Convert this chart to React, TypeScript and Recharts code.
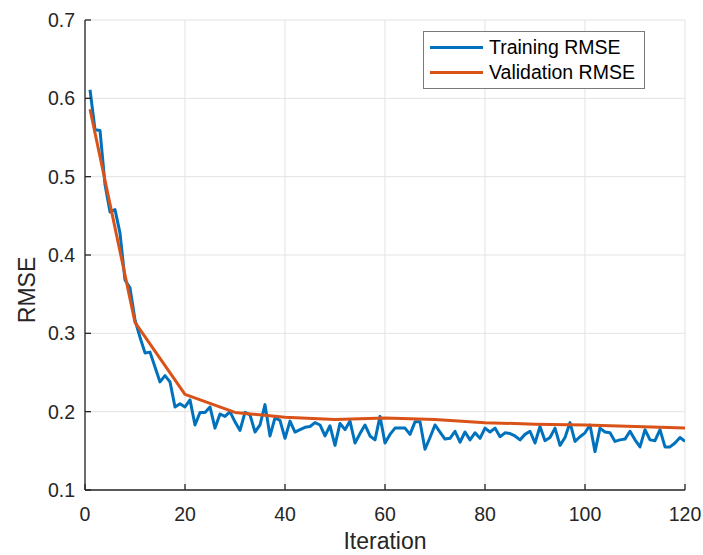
import React from 'react'
import {
  LineChart, Line, XAxis, YAxis, CartesianGrid, Legend
} from 'recharts'

// training RMSE, one value per iteration (1..120)
const trainingRMSE = [
  0.611, 0.560, 0.559, 0.490, 0.455, 0.458, 0.428, 0.368, 0.358, 0.317,
  0.295, 0.275, 0.276, 0.257, 0.238, 0.246, 0.238, 0.206, 0.210, 0.206,
  0.215, 0.183, 0.199, 0.199, 0.206, 0.179, 0.197, 0.194, 0.200, 0.187,
  0.176, 0.199, 0.196, 0.174, 0.183, 0.209, 0.169, 0.192, 0.189, 0.166,
  0.188, 0.174, 0.177, 0.180, 0.181, 0.186, 0.183, 0.169, 0.182, 0.157,
  0.185, 0.177, 0.188, 0.160, 0.172, 0.183, 0.169, 0.164, 0.194, 0.160,
  0.171, 0.179, 0.179, 0.179, 0.171, 0.187, 0.187, 0.152, 0.167, 0.183,
  0.174, 0.165, 0.166, 0.175, 0.161, 0.174, 0.164, 0.173, 0.166, 0.179,
  0.174, 0.179, 0.168, 0.173, 0.172, 0.169, 0.164, 0.171, 0.175, 0.160,
  0.181, 0.163, 0.167, 0.179, 0.157, 0.167, 0.186, 0.162, 0.168, 0.173,
  0.183, 0.149, 0.179, 0.174, 0.173, 0.162, 0.164, 0.165, 0.175, 0.164,
  0.155, 0.177, 0.164, 0.163, 0.177, 0.155, 0.155, 0.160, 0.167, 0.162,
]

// validation is only evaluated every 10 iterations
const validationIters = [1, 10, 20, 30, 40, 50, 60, 70, 80, 90, 100, 110, 120]
const validationRMSE = [0.586, 0.314, 0.222, 0.199, 0.193, 0.190, 0.192, 0.190, 0.186, 0.184, 0.183, 0.181, 0.179]

const xTicks = [0, 20, 40, 60, 80, 100, 120]
const yTicks = [0.1, 0.2, 0.3, 0.4, 0.5, 0.6, 0.7]

const data = trainingRMSE.map((v, i) => {
  const iter = i + 1
  const k = validationIters.indexOf(iter)
  return { iter, train: v, val: k >= 0 ? validationRMSE[k] : null }
})

const FONT = '"Liberation Sans", Arial, Helvetica, sans-serif'
const AXIS = '#262626'
const BLUE = '#0072BD'
const ORANGE = '#D95319'

const noLabel = () => <g />

// y label sits a bit below the axis middle in the original
const YLabel = ({ viewBox }: any) => {
  const cy = viewBox.y + viewBox.height / 2 + 35
  return (
    <text x={35} y={cy} transform={`rotate(-90, 35, ${cy})`} textAnchor="middle"
      fill={AXIS} fontSize={23} fontFamily={FONT}>RMSE</text>
  )
}

function LegendBox() {
  const row = (color: string, text: string) => (
    <div style={{ display: 'flex', alignItems: 'center', height: 25 }}>
      <div style={{ width: 53, height: 3, background: color, marginRight: 6 }} />
      <span>{text}</span>
    </div>
  )
  return (
    <div style={{
      border: '1px solid #7a7a7a', background: '#fff', padding: '3px 6px 3px 6px',
      fontFamily: FONT, fontSize: 19.5, color: '#000', lineHeight: '25px', width: 208,
    }}>
      {row(BLUE, 'Training RMSE')}
      {row(ORANGE, 'Validation RMSE')}
    </div>
  )
}

export default function App() {
  return (
    <div style={{ position: 'absolute', left: 0, top: 0, width: 703, height: 555, background: '#fff' }}>
      <LineChart width={703} height={555} data={data} margin={{ top: 20, right: 18, bottom: 0, left: 0 }}>
        <CartesianGrid stroke="#e3e3e3" strokeWidth={1} horizontalValues={yTicks} verticalValues={xTicks} />
        <XAxis
          dataKey="iter" type="number" domain={[0, 120]} ticks={xTicks} allowDataOverflow
          height={65} tickSize={-6} tickMargin={23}
          stroke={AXIS} strokeWidth={1.3}
          tick={{ fill: AXIS, fontSize: 19.5, fontFamily: FONT }}
          label={{ value: 'Iteration', position: 'insideBottom', offset: 6, fill: AXIS, fontSize: 23, fontFamily: FONT }}
        />
        <XAxis
          xAxisId="top" orientation="top" dataKey="iter" type="number" domain={[0, 120]} ticks={xTicks}
          height={0} tickSize={-6} stroke={AXIS} strokeWidth={1.3} tick={noLabel}
        />
        <YAxis
          type="number" domain={[0.1, 0.7]} ticks={yTicks} allowDataOverflow
          width={85} tickSize={-6} tickMargin={16}
          stroke={AXIS} strokeWidth={1.3}
          tickFormatter={(v: number) => v.toFixed(1)}
          tick={{ fill: AXIS, fontSize: 19.5, fontFamily: FONT }}
          label={<YLabel />}
        />
        <YAxis
          yAxisId="right" orientation="right" type="number" domain={[0.1, 0.7]} ticks={yTicks}
          width={0} tickSize={-6} stroke={AXIS} strokeWidth={1.3} tick={noLabel}
        />
        <Legend
          layout="vertical" align="center" verticalAlign="middle"
          wrapperStyle={{ position: 'absolute', left: 423, top: 31, width: 'auto' }}
          content={() => <LegendBox />}
        />
        <Line dataKey="train" name="Training RMSE" stroke={BLUE} strokeWidth={3} dot={false} isAnimationActive={false} strokeLinejoin="round" />
        <Line dataKey="val" name="Validation RMSE" stroke={ORANGE} strokeWidth={3} dot={false} connectNulls isAnimationActive={false} strokeLinejoin="round" />
      </LineChart>
    </div>
  )
}
